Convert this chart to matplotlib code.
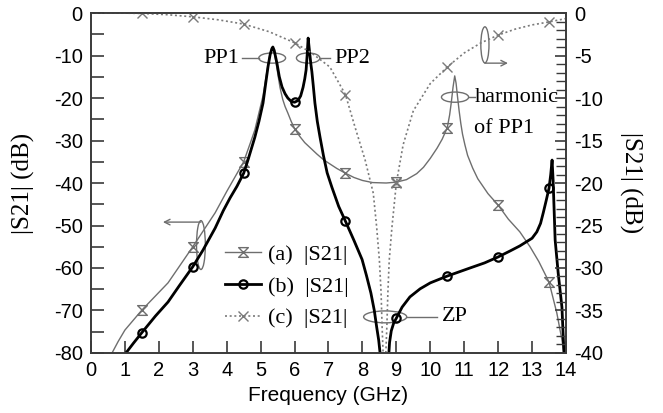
import numpy as np
import matplotlib
matplotlib.use("Agg")
import matplotlib.pyplot as plt
from matplotlib.path import Path
from matplotlib.patches import Ellipse
from matplotlib.ticker import MultipleLocator

plt.rcParams["axes.unicode_minus"] = False
nan = np.nan

# marker positions shared by all three traces (GHz)
marker_freq = [1.5, 3.0, 4.5, 6.0, 7.5, 9.0, 10.5, 12.0, 13.5]

# (a) |S21|, left axis (dB)
freq_a = [0.62, 0.8, 1.0, 1.5, 2.27, 3.0, 3.66, 4.0, 4.5, 4.7, 4.83, 4.95, 5.07, 5.15,
          5.22, 5.28, 5.33, 5.38, 5.43, 5.5, 5.57, 5.65, 5.72, 5.8, 5.9, 6.0, 6.15, 6.3,
          6.5, 6.66, 6.85, 7.0, 7.25, 7.5, 7.75, 8.0, 8.3, 8.7, 9.0, 9.3, 9.6, 9.8, 10.0,
          10.2, 10.35, 10.5, 10.57, 10.62, 10.67, 10.72, 10.76, 10.8, 10.85, 10.9, 10.95,
          11.02, 11.1, 11.25, 11.4, 11.7, 12.0, 12.3, 12.64, 12.94, 13.2, 13.5, 13.73,
          13.88, 13.94]
s21_a = [-80, -77.3, -74.6, -69.9, -63.5, -55, -47, -42, -35, -30.5, -27.5, -23.5, -19.5, -15.5,
         -12, -9.5, -8.3, -8.6, -10.5, -14, -17.5, -20.3, -22, -23.5, -25.5, -27.2, -29, -30.5,
         -32, -33.2, -34.5, -35.3, -36.6, -37.7, -38.7, -39.4, -39.9, -40, -39.8, -39.2, -37.8, -36.3, -34.2,
         -31.8, -29.7, -27, -24, -21, -17.5, -14.8, -16.5, -19.5, -23, -26, -28.5,
         -31, -33.5, -36.5, -39, -42.5, -45.2, -48.5, -51.5, -55, -58.5, -63.3, -70.6,
         -76.9, -80]

# (b) |S21|, left axis (dB)
freq_b = [1.03, 1.25, 1.5, 1.9, 2.27, 2.6, 3.0, 3.3, 3.66, 3.9, 4.1, 4.3, 4.5, 4.63, 4.83,
          4.95, 5.07, 5.15, 5.22, 5.28, 5.33, 5.36, 5.4, 5.44, 5.48, 5.55, 5.63, 5.72, 5.8,
          5.9, 6.0, 6.1, 6.18, 6.25, 6.3, 6.34, 6.37, 6.4, 6.44, 6.48, 6.51, 6.55, 6.6, 6.67,
          6.75, 6.85, 6.96, 7.1, 7.3, 7.5, 7.75, 7.99, 8.12, 8.25, 8.35, 8.42, 8.48, 8.52,
          nan, 8.78, 8.8, 8.85, 8.92, 9.0, 9.17, 9.4, 9.7, 10.0, 10.5, 11.17, 11.6, 12.0,
          12.35, 12.64, 13.0, 13.14, 13.25, 13.33, 13.42, 13.5, 13.55, 13.59, 13.62, 13.68,
          13.77, 13.88, 13.94]
s21_b = [-80, -77.7, -75.2, -71.3, -68, -64.2, -59.7, -55.8, -50.6, -46.5, -43.5, -40.8, -37.7, -34.5, -29.2,
         -25.5, -21.2, -16.5, -12.5, -9.8, -8.4, -8, -8.8, -10.3, -11.8, -15, -17.4, -19, -20,
         -20.8, -21, -20.6, -19.5, -17.5, -15.5, -13.4, -10, -5.9, -9, -12, -13.8, -17, -21.2, -25.5,
         -29.2, -33.5, -37.6, -41, -45.5, -49, -53.5, -58, -61.8, -65.9, -70, -73.9, -77, -80,
         nan, -80, -77.5, -74.8, -73, -71.8, -69.2, -66.8, -64.9, -63.5, -61.9, -60, -58.8, -57.4,
         -56, -54.8, -53, -51.5, -49.5, -47, -44, -41.2, -38, -34.6, -39.3, -53.4,
         -61.2, -69.2, -80]

# (c) |S21|, right axis (dB)
freq_c = [0, 0.75, 1.5, 2.25, 3.0, 3.75, 4.5, 5.25, 6.0, 6.5, 7.04, 7.5, 7.78, 8.08, 8.32,
          8.42, 8.5, 8.55, 8.58, 8.61, nan, 8.69, 8.72, 8.75, 8.79, 8.87, 9.0, 9.2, 9.5,
          10.0, 10.5, 11.0, 11.5, 12.0, 12.5, 13.0, 13.5, 14.0]
s21_c = [0, 0, -0.05, -0.2, -0.45, -0.8, -1.3, -2.2, -3.5, -4.7, -6.35, -9.6, -13.4, -17.3, -21.2,
         -25.2, -29.1, -32.9, -36.9, -40, nan, -40, -36.9, -32.9, -29.1, -25.2, -20, -15.5, -11.5,
         -8.3, -6.35, -4.7, -3.5, -2.6, -1.9, -1.4, -1.05, -0.65]

labels = ["(a)  |S21|", "(b)  |S21|", "(c)  |S21|"]


def marks(f):
    return [i for i, x in enumerate(f) if x in marker_freq]


serif = "Liberation Serif"
sans = "Liberation Sans"
grey = "#6e6e6e"
frame = "#3a3a3a"

hourglass = Path([(-0.5, 0.5), (0.5, 0.5), (-0.5, -0.5), (0.5, -0.5), (-0.5, 0.5)],
                 [Path.MOVETO, Path.LINETO, Path.LINETO, Path.LINETO, Path.CLOSEPOLY])

fig = plt.figure(figsize=(6.63, 4.13), dpi=100)
ax = fig.add_axes([0.13725, 0.14528, 0.71644, 0.82324])
ax2 = ax.twinx()

la, = ax.plot(freq_a, s21_a, color=grey, lw=1.0, marker=hourglass, ms=7,
              mfc="none", mec=grey, mew=1.0, markevery=marks(freq_a))
lb, = ax.plot(freq_b, s21_b, color="black", lw=2.0, marker="o", ms=6,
              mfc="none", mec="black", mew=1.6, markevery=marks(freq_b))
lc, = ax2.plot(freq_c, s21_c, color="#7a7a7a", lw=1.2, ls=(0, (1.2, 1.6)), marker="x", ms=7,
               mec="#7a7a7a", mew=1.0, markevery=marks(freq_c))

ax.set_xlim(0, 14)
ax.set_ylim(-80, 0)
ax2.set_ylim(-40, 0)
ax.xaxis.set_major_locator(MultipleLocator(1))
ax.yaxis.set_major_locator(MultipleLocator(10))
ax.yaxis.set_minor_locator(MultipleLocator(5))
ax2.yaxis.set_major_locator(MultipleLocator(5))
ax2.yaxis.set_minor_locator(MultipleLocator(1))

for a in (ax, ax2):
    for s in a.spines.values():
        s.set_color(frame)
        s.set_linewidth(1.2)
ax.tick_params(axis="both", which="both", direction="in", length=9, width=1.2,
               color=frame, labelsize=14.5, pad=6, top=False, right=False)
ax2.tick_params(axis="y", which="major", direction="in", length=8, width=1.2,
                color=frame, labelsize=14.5, pad=6)
ax2.tick_params(axis="y", which="minor", direction="in", length=7, width=1.0, color=frame)
for t in ax.get_xticklabels() + ax.get_yticklabels() + ax2.get_yticklabels():
    t.set_fontfamily(sans)

ax.set_xlabel("Frequency (GHz)", fontsize=15, fontfamily=sans, labelpad=4)
ax.set_ylabel("|S21| (dB)", fontsize=18, fontfamily=serif)
ax.yaxis.set_label_coords(-0.118, 0.5)
ax2.set_ylabel("|S21| (dB)", fontsize=18, fontfamily=serif, rotation=-90, va="center")
ax2.yaxis.set_label_coords(1.135, 0.5)

# annotations (left axis coordinates)
ell = dict(fill=False, ec=grey, lw=1.0)
ax.add_patch(Ellipse((5.34, -10.6), 0.79, 2.4, **ell))
ax.add_patch(Ellipse((6.4, -10.6), 0.69, 2.4, **ell))
ax.add_patch(Ellipse((10.73, -19.8), 0.8, 2.4, **ell))
ax.add_patch(Ellipse((8.67, -71.5), 1.27, 2.8, **ell))
ax.add_patch(Ellipse((3.24, -54.6), 0.26, 11.5, **ell))
ax.add_patch(Ellipse((11.61, -7.5), 0.24, 8.5, **ell))

ax.plot([4.45, 4.95], [-10.6, -10.6], color=grey, lw=1.0)
ax.plot([6.75, 7.04], [-10.6, -10.6], color=grey, lw=1.0)
ax.plot([11.13, 11.32], [-19.8, -19.8], color=grey, lw=1.0)
ax.plot([9.3, 10.2], [-71.5, -71.5], color=grey, lw=1.0)
ax.annotate("", xy=(2.12, -49.2), xytext=(3.24, -49.2),
            arrowprops=dict(arrowstyle="->", color=grey, lw=1.0, shrinkA=0, shrinkB=0))
ax.annotate("", xy=(12.29, -11.8), xytext=(11.61, -11.8),
            arrowprops=dict(arrowstyle="->", color=grey, lw=1.0, shrinkA=0, shrinkB=0))

txt = dict(fontsize=16, fontfamily=serif, va="center")
ax.text(4.38, -10.6, "PP1", ha="right", **txt)
ax.text(7.18, -10.6, "PP2", ha="left", **txt)
ax.text(11.3, -19.8, "harmonic", ha="left", **txt)
ax.text(11.3, -27.2, "of PP1", ha="left", **txt)
ax.text(10.35, -71.5, "ZP", ha="left", **txt)

ax.legend([la, lb, lc], labels, loc="upper left", bbox_to_anchor=(0.25, 0.365),
          frameon=False, prop={"family": serif, "size": 16}, handlelength=1.6,
          handletextpad=0.3, labelspacing=0.5, borderpad=0.2, numpoints=1)

fig.savefig("out.png", dpi=100)
